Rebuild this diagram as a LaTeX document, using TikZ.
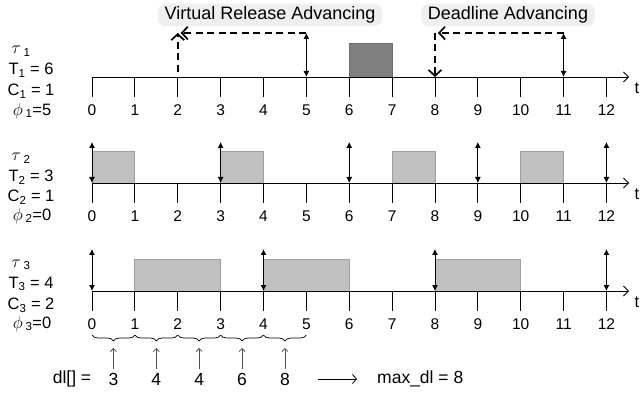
\documentclass[tikz,border=0pt]{standalone}
\usepackage{fontspec}
\setmainfont{Liberation Sans}
\usetikzlibrary{arrows.meta,decorations.pathreplacing}
\definecolor{boxfill}{HTML}{C0C0C0}
\definecolor{boxedge}{HTML}{A0A0A0}
\definecolor{darkfill}{HTML}{808080}
\definecolor{darkedge}{HTML}{6E6E6E}
\definecolor{tagbg}{HTML}{EFEFEF}
\definecolor{pointer}{HTML}{505050}
\begin{document}
\begin{tikzpicture}[x=1pt,y=-1pt,
  axisline/.style={line width=0.8pt,-{Straight Barb[length=5pt,width=10pt,line width=0.8pt]}},
  tickline/.style={line width=0.8pt},
  lbox/.style={fill=boxfill,draw=boxedge,line width=0.8pt},
  dbox/.style={fill=darkfill,draw=darkedge,line width=0.8pt},
  rel/.style={line width=0.9pt,{Latex[length=6pt,width=6pt]}-{Latex[length=6pt,width=6pt]}},
  adv/.style={line width=2pt,dash pattern=on 7pt off 4.5pt,-{Straight Barb[length=6pt,width=13pt,line width=1.7pt]}},
  num/.style={font=\fontsize{15.5}{18}\selectfont,inner sep=0pt},
  lbl/.style={font=\fontsize{16.5}{19}\selectfont,inner sep=0pt},
  blbl/.style={font=\fontsize{17.5}{20}\selectfont,inner sep=0pt},
  tag/.style={font=\fontsize{18}{21}\selectfont,fill=tagbg,rounded corners=9pt,inner xsep=7pt,inner ysep=3pt},
  brc/.style={decorate,decoration={brace,mirror,amplitude=6pt},line width=0.7pt},
  ptr/.style={draw=pointer,line width=0.8pt,-{Straight Barb[length=3pt,width=6pt,line width=0.8pt]}},
  longarr/.style={line width=0.8pt,-{Straight Barb[length=4pt,width=9pt,line width=0.8pt]}}
]
\useasboundingbox (0,0) rectangle (642,403);

% coordinates and tick labels
\foreach \r/\Y/\H/\A in {1/77/34/44,2/183/32/41,3/291/32/42}{
  \foreach \t in {0,...,12}{
    \coordinate (r\r a\t) at ({92+42.87*\t},\Y);
    \coordinate (r\r b\t) at ({92+42.87*\t},{\Y+20});
    \coordinate (r\r u\t) at ({92+42.87*\t},{\Y-\H});
    \coordinate (r\r v\t) at ({92+42.87*\t},{\Y-\A});
    \node[num] (r\r n\t) at ({92+42.87*\t},{\Y+33}) {\t};
  }
  \coordinate (r\r s) at (92,\Y);
  \coordinate (r\r e) at (629,\Y);
  \node[lbl] (r\r t) at (637,{\Y+11}) {t};
}

% execution boxes
\draw[dbox] (r1a6) rectangle (r1u7);
\foreach \s/\e in {0/1,3/4,7/8,10/11} \draw[lbox] (r2a\s) rectangle (r2u\e);
\foreach \s/\e in {1/3,4/6,8/10} \draw[lbox] (r3a\s) rectangle (r3u\e);

% axes and ticks
\foreach \r in {1,2,3}{
  \draw[axisline] (r\r s) -- (r\r e);
  \foreach \t in {0,...,12} \draw[tickline] (r\r a\t) -- (r\r b\t);
}

% release / deadline arrows
\foreach \t in {5,11} \draw[rel] (r1v\t) -- (r1a\t);
\foreach \t in {0,3,6,9,12} \draw[rel] (r2v\t) -- (r2a\t);
\foreach \t in {0,4,8,12} \draw[rel] (r3v\t) -- (r3a\t);

% advancing arrows
\coordinate (vstart) at ({92+42.87*2},72);
\draw[adv] (vstart) -- (r1v2);
\draw[adv,shorten >=3pt] (r1v5) -- (r1v2);
\draw[adv,shorten >=3pt] (r1v11) -- (r1v8);
\draw[adv] (r1v8) -- (r1a8);

\node[tag] (vra) at (270,15) {Virtual Release Advancing};
\node[tag] (dla) at (508,15) {Deadline Advancing};

% task parameters
\node[lbl] (tau1) at (21,51) {$\tau$\,\textsubscript{1}};
\node[lbl] (T1) at (31,70.5) {T\textsubscript{1} = 6};
\node[lbl] (C1) at (31,91) {C\textsubscript{1} = 1};
\node[lbl] (p1) at (32,111) {$\phi$\,\textsubscript{1}=5};
\node[lbl] (tau2) at (21,158) {$\tau$\,\textsubscript{2}};
\node[lbl] (T2) at (31,177) {T\textsubscript{2} = 3};
\node[lbl] (C2) at (31,197) {C\textsubscript{2} = 1};
\node[lbl] (p2) at (32,216) {$\phi$\,\textsubscript{2}=0};
\node[lbl] (tau3) at (21,265) {$\tau$\,\textsubscript{3}};
\node[lbl] (T3) at (31,284) {T\textsubscript{3} = 4};
\node[lbl] (C3) at (31,305) {C\textsubscript{3} = 2};
\node[lbl] (p3) at (32,324) {$\phi$\,\textsubscript{3}=0};

% braces and dl values
\foreach \t in {0,...,5} \coordinate (r3c\t) at ({92+42.87*\t},335);
\foreach \i/\j/\v in {0/1/3,1/2/4,2/3/4,3/4/6,4/5/8}{
  \draw[brc] (r3c\i) -- (r3c\j);
  \coordinate (pb\i) at ({92+42.87*(\i+0.5)},369);
  \coordinate (pt\i) at ({92+42.87*(\i+0.5)},348);
  \draw[ptr] (pb\i) -- (pt\i);
  \node[blbl] (dl\i) at ({92+42.87*(\i+0.5)},379) {\v};
}
\node[blbl] (dl) at (72,379) {dl[] =};
\node[blbl,anchor=west] (maxdl) at (377,379) {max\_dl = 8};
\coordinate (la) at (318,379);
\coordinate (lb) at (357,379);
\draw[longarr] (la) -- (lb);
\end{tikzpicture}
\end{document}
